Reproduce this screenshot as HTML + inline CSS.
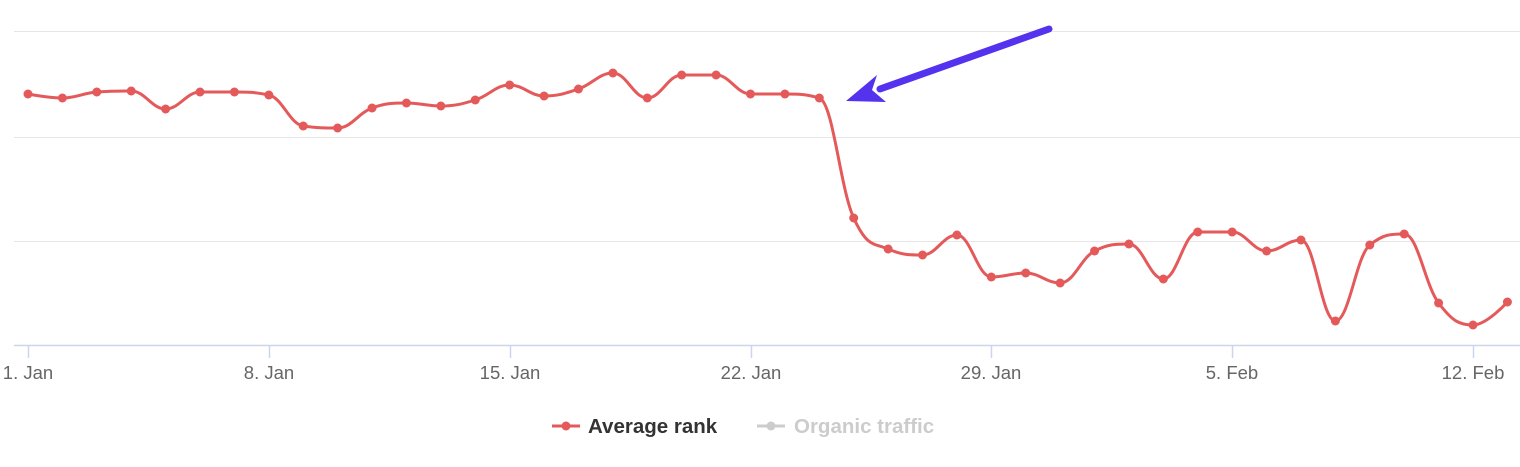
<!DOCTYPE html>
<html><head><meta charset="utf-8"><style>
html,body{margin:0;padding:0;background:#fff;}
svg{display:block;font-family:"Liberation Sans",sans-serif;}
</style></head><body>
<svg id="s" width="1520" height="467" viewBox="0 0 1520 467">
<g stroke="#e6e6e6" stroke-width="1">
<line x1="14" y1="31.5" x2="1520" y2="31.5"/>
<line x1="14" y1="137.5" x2="1520" y2="137.5"/>
<line x1="14" y1="241.5" x2="1520" y2="241.5"/>
</g>
<line x1="14" y1="345.5" x2="1520" y2="345.5" stroke="#ccd6eb" stroke-width="1.5"/>
<g stroke="#ccd6eb" stroke-width="1.5">
<line x1="28.5" y1="345" x2="28.5" y2="358"/>
<line x1="269.5" y1="345" x2="269.5" y2="358"/>
<line x1="510.5" y1="345" x2="510.5" y2="358"/>
<line x1="751.5" y1="345" x2="751.5" y2="358"/>
<line x1="991.5" y1="345" x2="991.5" y2="358"/>
<line x1="1232.5" y1="345" x2="1232.5" y2="358"/>
<line x1="1473.5" y1="345" x2="1473.5" y2="358"/>
</g>
<g fill="#666" font-size="18.5" text-anchor="middle">
<text x="28" y="379">1. Jan</text>
<text x="269" y="379">8. Jan</text>
<text x="510" y="379">15. Jan</text>
<text x="751" y="379">22. Jan</text>
<text x="991" y="379">29. Jan</text>
<text x="1232" y="379">5. Feb</text>
<text x="1473" y="379">12. Feb</text>
</g>
<path id="ln" fill="none" stroke="#e4595a" stroke-width="3" d=""/>
<g id="dots" fill="#e4595a"></g>
<line x1="1049" y1="29" x2="880" y2="89" stroke="#5533ee" stroke-width="7" stroke-linecap="round"/>
<polygon points="846,101 877,75 872,90 886,102" fill="#5533ee"/>
<line x1="552" y1="426" x2="580" y2="426" stroke="#e4595a" stroke-width="3"/>
<circle cx="566" cy="426" r="4.5" fill="#e4595a"/>
<text x="588" y="433" font-size="20.5" font-weight="bold" fill="#333">Average rank</text>
<line x1="757" y1="426" x2="785" y2="426" stroke="#ccc" stroke-width="3"/>
<circle cx="771" cy="426" r="4.5" fill="#ccc"/>
<text x="794" y="433" font-size="20.5" font-weight="bold" fill="#ccc">Organic traffic</text>
</svg>
<script>
var ys=[94,98,92,91,109,92,92,95,126,128,108,103,106,100,85,96,89,73,98,75,75,94,94,98,218,249,255,235,277,273,283,251,244,279,232,232,251,240,321,245,234,303,325,302];
var dx=(1473-28)/42;var p=ys.map(function(y,i){return [28+i*dx,y];});
function ctrl(i){var x=p[i][0],y=p[i][1];if(i==0||i==p.length-1)return [x,y,x,y];
var px=p[i-1][0],py=p[i-1][1],nx=p[i+1][0],ny=p[i+1][1];
var lcx=(1.5*x+px)/2.5,lcy=(1.5*y+py)/2.5,rcx=(1.5*x+nx)/2.5,rcy=(1.5*y+ny)/2.5;
var c=((rcy-lcy)*(rcx-x))/(rcx-lcx)+y-rcy;lcy+=c;rcy+=c;
if(lcy>py&&lcy>y){lcy=Math.max(py,y);rcy=2*y-lcy;}else if(lcy<py&&lcy<y){lcy=Math.min(py,y);rcy=2*y-lcy;}
if(rcy>ny&&rcy>y){rcy=Math.max(ny,y);lcy=2*y-rcy;}else if(rcy<ny&&rcy<y){rcy=Math.min(ny,y);lcy=2*y-rcy;}
return [lcx,lcy,rcx,rcy];}
var C=p.map(function(q,i){return ctrl(i);});
var d="M"+p[0][0]+","+p[0][1];
for(var i=1;i<p.length;i++){d+=" C"+C[i-1][2]+","+C[i-1][3]+" "+C[i][0]+","+C[i][1]+" "+p[i][0]+","+p[i][1];}
document.getElementById("ln").setAttribute("d",d);
var h="";p.forEach(function(q){h+='<circle cx="'+q[0]+'" cy="'+q[1]+'" r="4.5"/>';});
document.getElementById("dots").innerHTML=h;
</script>
</body></html>
